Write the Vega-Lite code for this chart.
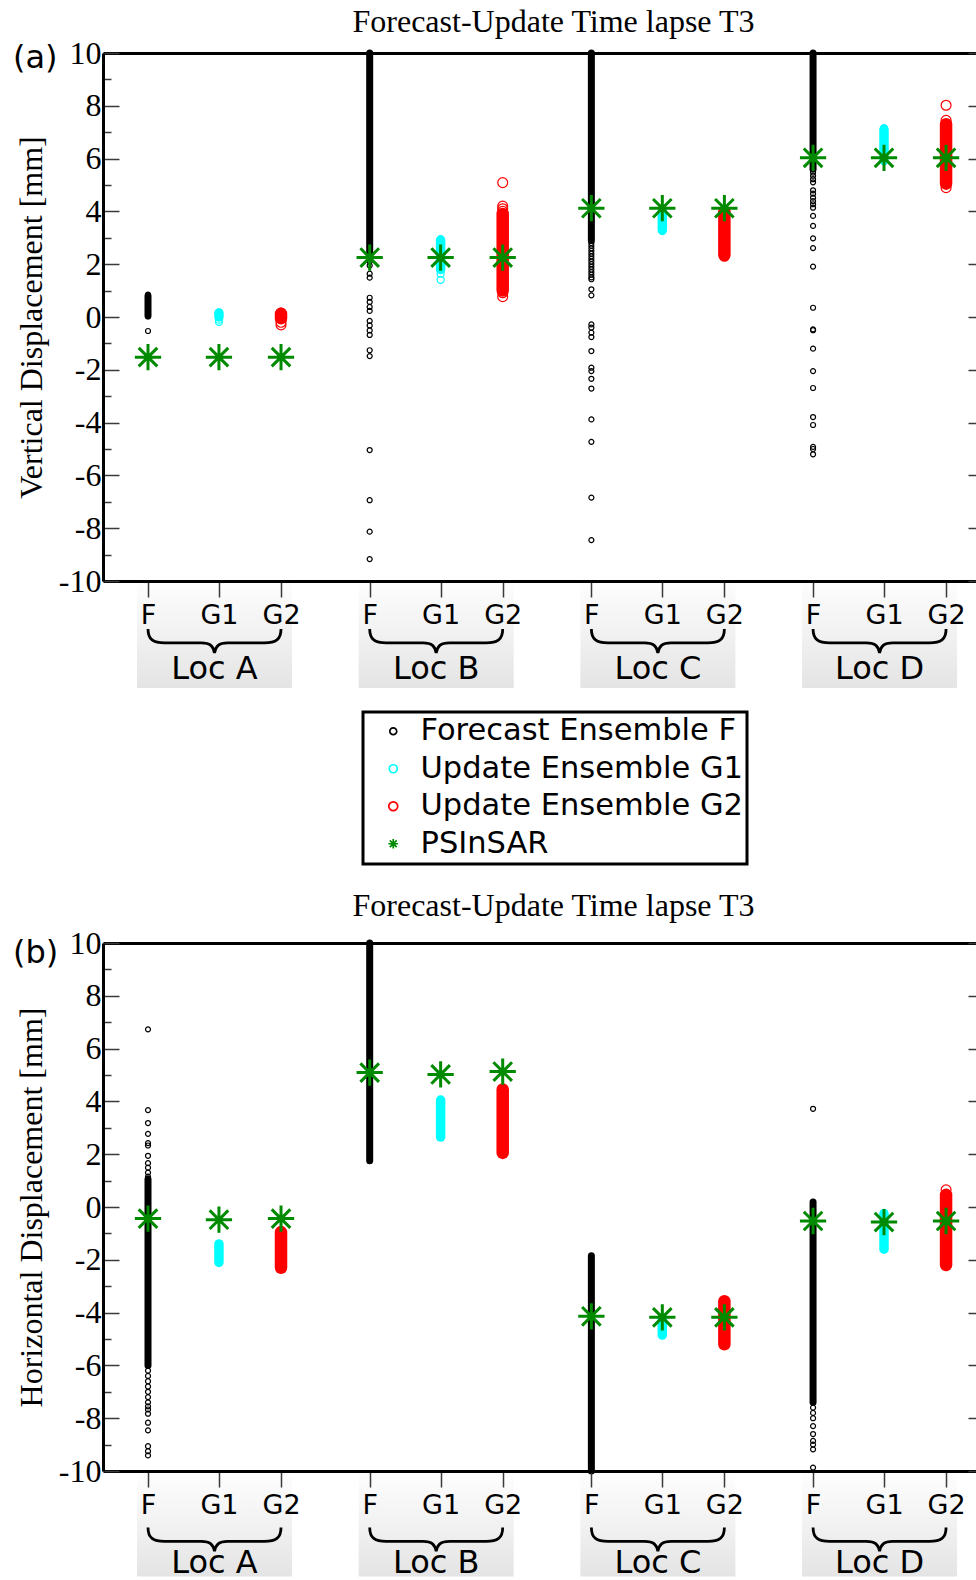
{
  "$schema": "https://vega.github.io/schema/vega-lite/v6.json",
  "padding": {"left": 12, "top": 6, "right": 0, "bottom": 0},
  "background": "white",
  "bounds": "flush",
  "spacing": 362,
  "config": {"view": {"stroke": null}, "legend": {"strokeWidth": 3}},
  "resolve": {"legend": {"color": "independent", "shape": "independent", "size": "independent"}},
  "datasets": {
    "slots": [
      {"k": "A-F", "loc": "Loc A", "m": "F", "x": 1},
      {"k": "A-G1", "loc": "Loc A", "m": "G1", "x": 1.32},
      {"k": "A-G2", "loc": "Loc A", "m": "G2", "x": 1.6},
      {"k": "B-F", "loc": "Loc B", "m": "F", "x": 2},
      {"k": "B-G1", "loc": "Loc B", "m": "G1", "x": 2.32},
      {"k": "B-G2", "loc": "Loc B", "m": "G2", "x": 2.6},
      {"k": "C-F", "loc": "Loc C", "m": "F", "x": 3},
      {"k": "C-G1", "loc": "Loc C", "m": "G1", "x": 3.32},
      {"k": "C-G2", "loc": "Loc C", "m": "G2", "x": 3.6},
      {"k": "D-F", "loc": "Loc D", "m": "F", "x": 4},
      {"k": "D-G1", "loc": "Loc D", "m": "G1", "x": 4.32},
      {"k": "D-G2", "loc": "Loc D", "m": "G2", "x": 4.6}
    ],
    "ba": [
      {"k": "A-F", "s": "F", "lo": 0.05, "hi": 0.8},
      {"k": "A-G1", "s": "G1", "lo": 0, "hi": 0.15},
      {"k": "A-G2", "s": "G2", "lo": -0.05, "hi": 0.12},
      {"k": "B-F", "s": "F", "lo": 2.3, "hi": 10},
      {"k": "B-G1", "s": "G1", "lo": 1.8, "hi": 2.9},
      {"k": "B-G2", "s": "G2", "lo": 1.0, "hi": 3.9},
      {"k": "C-F", "s": "F", "lo": 2.9, "hi": 10},
      {"k": "C-G1", "s": "G1", "lo": 3.3, "hi": 4.0},
      {"k": "C-G2", "s": "G2", "lo": 2.35, "hi": 4.0},
      {"k": "D-F", "s": "F", "lo": 5.6, "hi": 10},
      {"k": "D-G1", "s": "G1", "lo": 5.95, "hi": 7.1},
      {"k": "D-G2", "s": "G2", "lo": 5.05, "hi": 7.3}
    ],
    "pa": [
      {"k": "A-F", "s": "F", "v": 0.85}, {"k": "A-F", "s": "F", "v": 0.02}, {"k": "A-F", "s": "F", "v": -0.53},
      {"k": "A-G1", "s": "G1", "v": 0.17}, {"k": "A-G1", "s": "G1", "v": -0.1}, {"k": "A-G1", "s": "G1", "v": -0.18},
      {"k": "A-G2", "s": "G2", "v": 0.15}, {"k": "A-G2", "s": "G2", "v": -0.2}, {"k": "A-G2", "s": "G2", "v": -0.3},
      {"k": "B-F", "s": "F", "v": 2.1}, {"k": "B-F", "s": "F", "v": 1.95}, {"k": "B-F", "s": "F", "v": 1.64},
      {"k": "B-F", "s": "F", "v": 1.49}, {"k": "B-F", "s": "F", "v": 0.73}, {"k": "B-F", "s": "F", "v": 0.57},
      {"k": "B-F", "s": "F", "v": 0.38}, {"k": "B-F", "s": "F", "v": 0.23}, {"k": "B-F", "s": "F", "v": -0.15},
      {"k": "B-F", "s": "F", "v": -0.32}, {"k": "B-F", "s": "F", "v": -0.51}, {"k": "B-F", "s": "F", "v": -0.68},
      {"k": "B-F", "s": "F", "v": -1.26}, {"k": "B-F", "s": "F", "v": -1.48}, {"k": "B-F", "s": "F", "v": -5.04},
      {"k": "B-F", "s": "F", "v": -6.94}, {"k": "B-F", "s": "F", "v": -8.13}, {"k": "B-F", "s": "F", "v": -9.17},
      {"k": "B-G1", "s": "G1", "v": 2.95}, {"k": "B-G1", "s": "G1", "v": 1.64}, {"k": "B-G1", "s": "G1", "v": 1.41},
      {"k": "B-G2", "s": "G2", "v": 5.09}, {"k": "B-G2", "s": "G2", "v": 4.2}, {"k": "B-G2", "s": "G2", "v": 4.1},
      {"k": "B-G2", "s": "G2", "v": 4.0}, {"k": "B-G2", "s": "G2", "v": 0.92}, {"k": "B-G2", "s": "G2", "v": 0.77},
      {"k": "C-F", "s": "F", "v": 2.8}, {"k": "C-F", "s": "F", "v": 2.7}, {"k": "C-F", "s": "F", "v": 2.6},
      {"k": "C-F", "s": "F", "v": 2.5}, {"k": "C-F", "s": "F", "v": 2.4}, {"k": "C-F", "s": "F", "v": 2.3},
      {"k": "C-F", "s": "F", "v": 2.2}, {"k": "C-F", "s": "F", "v": 2.1}, {"k": "C-F", "s": "F", "v": 2.0},
      {"k": "C-F", "s": "F", "v": 1.9}, {"k": "C-F", "s": "F", "v": 1.8}, {"k": "C-F", "s": "F", "v": 1.7},
      {"k": "C-F", "s": "F", "v": 1.6}, {"k": "C-F", "s": "F", "v": 1.5}, {"k": "C-F", "s": "F", "v": 1.43},
      {"k": "C-F", "s": "F", "v": 1.05}, {"k": "C-F", "s": "F", "v": 0.82}, {"k": "C-F", "s": "F", "v": -0.28},
      {"k": "C-F", "s": "F", "v": -0.4}, {"k": "C-F", "s": "F", "v": -0.59}, {"k": "C-F", "s": "F", "v": -0.76},
      {"k": "C-F", "s": "F", "v": -1.29}, {"k": "C-F", "s": "F", "v": -1.92}, {"k": "C-F", "s": "F", "v": -2.05},
      {"k": "C-F", "s": "F", "v": -2.34}, {"k": "C-F", "s": "F", "v": -2.71}, {"k": "C-F", "s": "F", "v": -3.88},
      {"k": "C-F", "s": "F", "v": -4.73}, {"k": "C-F", "s": "F", "v": -6.84}, {"k": "C-F", "s": "F", "v": -8.45},
      {"k": "C-G1", "s": "G1", "v": 3.25},
      {"k": "C-G2", "s": "G2", "v": 2.3},
      {"k": "D-F", "s": "F", "v": 5.47}, {"k": "D-F", "s": "F", "v": 5.35}, {"k": "D-F", "s": "F", "v": 5.22},
      {"k": "D-F", "s": "F", "v": 5.1}, {"k": "D-F", "s": "F", "v": 4.8}, {"k": "D-F", "s": "F", "v": 4.67},
      {"k": "D-F", "s": "F", "v": 4.52}, {"k": "D-F", "s": "F", "v": 4.39}, {"k": "D-F", "s": "F", "v": 4.27},
      {"k": "D-F", "s": "F", "v": 4.14}, {"k": "D-F", "s": "F", "v": 3.83}, {"k": "D-F", "s": "F", "v": 3.45},
      {"k": "D-F", "s": "F", "v": 2.98}, {"k": "D-F", "s": "F", "v": 2.61}, {"k": "D-F", "s": "F", "v": 1.91},
      {"k": "D-F", "s": "F", "v": 0.35}, {"k": "D-F", "s": "F", "v": -0.47}, {"k": "D-F", "s": "F", "v": -0.5},
      {"k": "D-F", "s": "F", "v": -1.2}, {"k": "D-F", "s": "F", "v": -2.05}, {"k": "D-F", "s": "F", "v": -2.69},
      {"k": "D-F", "s": "F", "v": -3.79}, {"k": "D-F", "s": "F", "v": -4.09}, {"k": "D-F", "s": "F", "v": -4.92},
      {"k": "D-F", "s": "F", "v": -5.0}, {"k": "D-F", "s": "F", "v": -5.2},
      {"k": "D-G1", "s": "G1", "v": 7.15}, {"k": "D-G1", "s": "G1", "v": 5.9},
      {"k": "D-G2", "s": "G2", "v": 8.02}, {"k": "D-G2", "s": "G2", "v": 7.45}, {"k": "D-G2", "s": "G2", "v": 4.9},
      {"k": "A-F", "s": "PS", "v": -1.52}, {"k": "A-G1", "s": "PS", "v": -1.52}, {"k": "A-G2", "s": "PS", "v": -1.52},
      {"k": "B-F", "s": "PS", "v": 2.25}, {"k": "B-G1", "s": "PS", "v": 2.25}, {"k": "B-G2", "s": "PS", "v": 2.25},
      {"k": "C-F", "s": "PS", "v": 4.12}, {"k": "C-G1", "s": "PS", "v": 4.12}, {"k": "C-G2", "s": "PS", "v": 4.12},
      {"k": "D-F", "s": "PS", "v": 6.03}, {"k": "D-G1", "s": "PS", "v": 6.03}, {"k": "D-G2", "s": "PS", "v": 6.03}
    ],
    "bb": [
      {"k": "A-F", "s": "F", "lo": -6.0, "hi": 1.05},
      {"k": "A-G1", "s": "G1", "lo": -2.1, "hi": -1.4},
      {"k": "A-G2", "s": "G2", "lo": -2.3, "hi": -0.95},
      {"k": "B-F", "s": "F", "lo": 1.75, "hi": 10},
      {"k": "B-G1", "s": "G1", "lo": 2.65, "hi": 4.05},
      {"k": "B-G2", "s": "G2", "lo": 2.05, "hi": 4.45},
      {"k": "C-F", "s": "F", "lo": -10, "hi": -1.85},
      {"k": "C-G1", "s": "G1", "lo": -4.85, "hi": -4.2},
      {"k": "C-G2", "s": "G2", "lo": -5.2, "hi": -3.57},
      {"k": "D-F", "s": "F", "lo": -7.4, "hi": 0.19},
      {"k": "D-G1", "s": "G1", "lo": -1.6, "hi": -0.25},
      {"k": "D-G2", "s": "G2", "lo": -2.2, "hi": 0.46}
    ],
    "pb": [
      {"k": "A-F", "s": "F", "v": 6.73}, {"k": "A-F", "s": "F", "v": 3.67}, {"k": "A-F", "s": "F", "v": 3.18},
      {"k": "A-F", "s": "F", "v": 2.77}, {"k": "A-F", "s": "F", "v": 2.42}, {"k": "A-F", "s": "F", "v": 2.33},
      {"k": "A-F", "s": "F", "v": 1.94}, {"k": "A-F", "s": "F", "v": 1.66}, {"k": "A-F", "s": "F", "v": 1.49},
      {"k": "A-F", "s": "F", "v": 1.3}, {"k": "A-F", "s": "F", "v": 1.15}, {"k": "A-F", "s": "F", "v": -6.2},
      {"k": "A-F", "s": "F", "v": -6.4}, {"k": "A-F", "s": "F", "v": -6.6}, {"k": "A-F", "s": "F", "v": -6.8},
      {"k": "A-F", "s": "F", "v": -7.0}, {"k": "A-F", "s": "F", "v": -7.2}, {"k": "A-F", "s": "F", "v": -7.4},
      {"k": "A-F", "s": "F", "v": -7.55}, {"k": "A-F", "s": "F", "v": -7.67}, {"k": "A-F", "s": "F", "v": -7.83},
      {"k": "A-F", "s": "F", "v": -8.17}, {"k": "A-F", "s": "F", "v": -8.46}, {"k": "A-F", "s": "F", "v": -9.06},
      {"k": "A-F", "s": "F", "v": -9.25}, {"k": "A-F", "s": "F", "v": -9.41},
      {"k": "D-F", "s": "F", "v": 3.72}, {"k": "D-F", "s": "F", "v": -7.6}, {"k": "D-F", "s": "F", "v": -7.8},
      {"k": "D-F", "s": "F", "v": -8.0}, {"k": "D-F", "s": "F", "v": -8.3}, {"k": "D-F", "s": "F", "v": -8.6},
      {"k": "D-F", "s": "F", "v": -8.86}, {"k": "D-F", "s": "F", "v": -9.0}, {"k": "D-F", "s": "F", "v": -9.18},
      {"k": "D-F", "s": "F", "v": -9.87},
      {"k": "D-G2", "s": "G2", "v": 0.65},
      {"k": "A-F", "s": "PS", "v": -0.44}, {"k": "A-G1", "s": "PS", "v": -0.48}, {"k": "A-G2", "s": "PS", "v": -0.44},
      {"k": "B-F", "s": "PS", "v": 5.09}, {"k": "B-G1", "s": "PS", "v": 5.02}, {"k": "B-G2", "s": "PS", "v": 5.13},
      {"k": "C-F", "s": "PS", "v": -4.14}, {"k": "C-G1", "s": "PS", "v": -4.18}, {"k": "C-G2", "s": "PS", "v": -4.18},
      {"k": "D-F", "s": "PS", "v": -0.53}, {"k": "D-G1", "s": "PS", "v": -0.57}, {"k": "D-G2", "s": "PS", "v": -0.53}
    ]
  },
  "vconcat": [
    {
      "width": 873,
      "height": 528,
      "title": {"text": "Forecast-Update Time lapse T3", "font": "Liberation Serif", "fontSize": 32, "fontWeight": "normal", "color": "black", "anchor": "middle", "dx": 14, "offset": -2},
      "resolve": {"axis": {"x": "independent", "y": "independent"}, "legend": {"color": "independent", "shape": "independent", "size": "independent"}},
      "layer": [
        {
          "data": {"name": "slots"},
          "transform": [{"aggregate": [{"op": "min", "field": "x", "as": "x0"}, {"op": "max", "field": "x", "as": "x1"}], "groupby": ["loc"]}],
          "mark": {"type": "rect", "clip": false, "xOffset": -11, "x2Offset": 11,
            "fill": {"gradient": "linear", "x1": 0, "y1": 0, "x2": 0, "y2": 1, "stops": [{"offset": 0, "color": "#ffffff"}, {"offset": 0.5, "color": "#f2f2f2"}, {"offset": 1, "color": "#e4e4e4"}]}},
          "encoding": {
            "x": {"field": "x0", "type": "quantitative", "scale": {"domain": [0.797, 4.735], "nice": false, "zero": false}, "axis": null},
            "x2": {"field": "x1"},
            "y": {"datum": -9.77, "type": "quantitative", "scale": {"domain": [-10, 10], "nice": false, "zero": false}, "axis": null},
            "y2": {"datum": -14.05}
          }
        },
        {
          "data": {"name": "ba"},
          "transform": [{"lookup": "k", "from": {"data": {"name": "slots"}, "key": "k", "fields": ["x"]}}],
          "mark": {"type": "rule", "strokeCap": "round", "clip": false},
          "encoding": {
            "x": {"field": "x", "type": "quantitative", "scale": {"domain": [0.797, 4.735], "nice": false, "zero": false},
              "axis": {"orient": "bottom", "values": [1, 1.32, 1.6, 2, 2.32, 2.6, 3, 3.32, 3.6, 4, 4.32, 4.6],
                "labelExpr": "datum.value % 1 < 0.01 ? 'F' : (datum.value % 1 < 0.45 ? 'G1' : 'G2')",
                "title": null, "grid": false, "domain": true, "domainColor": "black", "domainWidth": 3,
                "ticks": true, "tickSize": 16, "tickColor": "#3a3a3a", "tickWidth": 1.5,
                "labelFont": "DejaVu Sans", "labelFontSize": 27, "labelColor": "black", "labelPadding": 5,
                "labelFlush": false, "labelOverlap": false, "zindex": 1}},
            "y": {"field": "lo", "type": "quantitative", "scale": {"domain": [-10, 10], "nice": false, "zero": false},
              "axis": {"orient": "left", "values": [-10, -9, -8, -7, -6, -5, -4, -3, -2, -1, 0, 1, 2, 3, 4, 5, 6, 7, 8, 9, 10],
                "labelExpr": "datum.value % 2 === 0 ? '' + datum.value : ''",
                "tickSize": {"condition": {"test": "datum.value % 2 === 0", "value": -16}, "value": -8},
                "labelPadding": 18, "grid": false, "domain": true, "domainColor": "black", "domainWidth": 3,
                "tickColor": "#3a3a3a", "tickWidth": 1.5, "labelFont": "Liberation Serif", "labelFontSize": 32,
                "labelColor": "black", "labelOverlap": false, "labelFlush": false,
                "title": "Vertical Displacement [mm]", "titleFont": "Liberation Serif", "titleFontSize": 32,
                "titleFontWeight": "normal", "titleColor": "black", "titlePadding": 10, "zindex": 1}},
            "y2": {"field": "hi"},
            "color": {"condition": [{"test": "datum.s === 'G1'", "value": "#00ffff"}, {"test": "datum.s === 'G2'", "value": "#ff0000"}], "value": "#000000"},
            "strokeWidth": {"condition": [{"test": "datum.s === 'F'", "value": 7}, {"test": "datum.s === 'G1'", "value": 9.5}], "value": 12.5}
          }
        },
        {
          "data": {"name": "pa"},
          "transform": [{"lookup": "k", "from": {"data": {"name": "slots"}, "key": "k", "fields": ["x"]}}],
          "mark": {"type": "point", "filled": false, "opacity": 1, "clip": false},
          "encoding": {
            "x": {"field": "x", "type": "quantitative", "scale": {"domain": [0.797, 4.735], "nice": false, "zero": false}, "axis": null},
            "y": {"field": "v", "type": "quantitative", "scale": {"domain": [-10, 10], "nice": false, "zero": false}, "axis": null},
            "color": {"field": "s", "type": "nominal",
              "scale": {"domain": ["F", "G1", "G2", "PS"], "range": ["#000000", "#00ffff", "#ff0000", "#008a00"]}, "legend": null},
            "shape": {"field": "s", "type": "nominal",
              "scale": {"domain": ["F", "G1", "G2", "PS"], "range": ["circle", "circle", "circle", "M0,-1L0,1M-1,0L1,0M-0.7071,-0.7071L0.7071,0.7071M-0.7071,0.7071L0.7071,-0.7071"]}, "legend": null},
            "size": {"condition": [{"test": "datum.s === 'F'", "value": 25}, {"test": "datum.s === 'G1'", "value": 50}, {"test": "datum.s === 'G2'", "value": 98}], "value": 690},
            "strokeWidth": {"condition": {"test": "datum.s === 'PS'", "value": 3}, "value": 1.2}
          }
        },
        {
          "data": {"name": "pa"},
          "transform": [{"filter": "datum.s === 'PS'"}, {"lookup": "k", "from": {"data": {"name": "slots"}, "key": "k", "fields": ["x"]}}],
          "mark": {"type": "point", "filled": false, "opacity": 0, "clip": false},
          "encoding": {
            "x": {"field": "x", "type": "quantitative", "scale": {"domain": [0.797, 4.735], "nice": false, "zero": false}, "axis": null},
            "y": {"field": "v", "type": "quantitative", "scale": {"domain": [-10, 10], "nice": false, "zero": false}, "axis": null},
            "color": {"field": "s", "type": "nominal",
              "scale": {"domain": ["F", "G1", "G2", "PS"], "range": ["#000000", "#00ffff", "#ff0000", "#008a00"]},
              "legend": {"orient": "none", "legendX": 260, "legendY": 659, "title": null,
                "strokeColor": "black", "fillColor": "white", "padding": 4,
                "labelFont": "DejaVu Sans", "labelFontSize": 30.5, "labelColor": "black", "labelLimit": 600,
                "symbolOffset": 11, "labelOffset": 12, "rowPadding": 6.5, "symbolOpacity": 1, "symbolStrokeWidth": 1.7,
                "labelExpr": "datum.value === 'F' ? 'Forecast Ensemble F' : datum.value === 'G1' ? 'Update Ensemble G1' : datum.value === 'G2' ? 'Update Ensemble G2' : 'PSInSAR'"}},
            "shape": {"field": "s", "type": "nominal",
              "scale": {"domain": ["F", "G1", "G2", "PS"], "range": ["circle", "circle", "circle", "M0,-1L0,1M-1,0L1,0M-0.7071,-0.7071L0.7071,0.7071M-0.7071,0.7071L0.7071,-0.7071"]},
              "legend": {"orient": "none", "legendX": 260, "legendY": 659, "title": null,
                "strokeColor": "black", "fillColor": "white", "padding": 4,
                "labelFont": "DejaVu Sans", "labelFontSize": 30.5, "labelColor": "black", "labelLimit": 600,
                "symbolOffset": 11, "labelOffset": 12, "rowPadding": 6.5, "symbolOpacity": 1, "symbolStrokeWidth": 1.7,
                "labelExpr": "datum.value === 'F' ? 'Forecast Ensemble F' : datum.value === 'G1' ? 'Update Ensemble G1' : datum.value === 'G2' ? 'Update Ensemble G2' : 'PSInSAR'"}},
            "size": {"field": "s", "type": "nominal",
              "scale": {"domain": ["F", "G1", "G2", "PS"], "range": [48, 95, 210, 324]},
              "legend": {"orient": "none", "legendX": 260, "legendY": 659, "title": null,
                "strokeColor": "black", "fillColor": "white", "padding": 4,
                "labelFont": "DejaVu Sans", "labelFontSize": 30.5, "labelColor": "black", "labelLimit": 600,
                "symbolOffset": 11, "labelOffset": 12, "rowPadding": 6.5, "symbolOpacity": 1, "symbolStrokeWidth": 1.7,
                "labelExpr": "datum.value === 'F' ? 'Forecast Ensemble F' : datum.value === 'G1' ? 'Update Ensemble G1' : datum.value === 'G2' ? 'Update Ensemble G2' : 'PSInSAR'"}}
          }
        },
        {
          "data": {"name": "slots"},
          "transform": [{"filter": "datum.m !== 'G1'"}, {"aggregate": [{"op": "mean", "field": "x", "as": "cx"}], "groupby": ["loc"]}],
          "mark": {"type": "point", "shape": "M-1,-0.18C-1,-0.02,-0.92,0.03,-0.75,0.03L-0.2,0.03C-0.06,0.03,-0.02,0.08,0,0.18C0.02,0.08,0.06,0.03,0.2,0.03L0.75,0.03C0.92,0.03,1,-0.02,1,-0.18",
            "size": 17689, "filled": false, "stroke": "black", "strokeWidth": 2.8, "opacity": 1, "clip": false},
          "encoding": {
            "x": {"field": "cx", "type": "quantitative", "scale": {"domain": [0.797, 4.735], "nice": false, "zero": false},
              "axis": {"orient": "top", "domain": true, "domainColor": "black", "domainWidth": 3, "ticks": false, "labels": false, "title": null, "grid": false, "zindex": 1}},
            "y": {"datum": -12.27, "type": "quantitative", "scale": {"domain": [-10, 10], "nice": false, "zero": false},
              "axis": {"orient": "right", "domain": false, "labels": false, "ticks": true, "tickSize": -8, "tickColor": "#3a3a3a", "tickWidth": 1.5,
                "values": [-10, -8, -6, -4, -2, 0, 2, 4, 6, 8, 10], "title": null, "grid": false, "zindex": 1}}
          }
        },
        {
          "data": {"name": "slots"},
          "transform": [{"filter": "datum.m !== 'G1'"}, {"aggregate": [{"op": "mean", "field": "x", "as": "cx"}], "groupby": ["loc"]}],
          "mark": {"type": "text", "font": "DejaVu Sans", "fontSize": 32, "baseline": "alphabetic", "align": "center", "color": "black", "clip": false},
          "encoding": {
            "x": {"field": "cx", "type": "quantitative", "scale": {"domain": [0.797, 4.735], "nice": false, "zero": false}, "axis": null},
            "y": {"datum": -13.72, "type": "quantitative", "scale": {"domain": [-10, 10], "nice": false, "zero": false}, "axis": null},
            "text": {"field": "loc"}
          }
        },
        {
          "data": {"values": [{"t": "(a)"}]},
          "mark": {"type": "text", "font": "DejaVu Sans", "fontSize": 32, "baseline": "alphabetic", "align": "left", "color": "black", "clip": false},
          "encoding": {
            "x": {"datum": 0.391, "type": "quantitative", "scale": {"domain": [0.797, 4.735], "nice": false, "zero": false}, "axis": null},
            "y": {"datum": 9.43, "type": "quantitative", "scale": {"domain": [-10, 10], "nice": false, "zero": false}, "axis": null},
            "text": {"field": "t"}
          }
        }
      ]
    },
    {
      "width": 873,
      "height": 528,
      "title": {"text": "Forecast-Update Time lapse T3", "font": "Liberation Serif", "fontSize": 32, "fontWeight": "normal", "color": "black", "anchor": "middle", "dx": 14, "offset": 4},
      "resolve": {"axis": {"x": "independent", "y": "independent"}},
      "layer": [
        {
          "data": {"name": "slots"},
          "transform": [{"aggregate": [{"op": "min", "field": "x", "as": "x0"}, {"op": "max", "field": "x", "as": "x1"}], "groupby": ["loc"]}],
          "mark": {"type": "rect", "clip": false, "xOffset": -11, "x2Offset": 11,
            "fill": {"gradient": "linear", "x1": 0, "y1": 0, "x2": 0, "y2": 1, "stops": [{"offset": 0, "color": "#ffffff"}, {"offset": 0.5, "color": "#f2f2f2"}, {"offset": 1, "color": "#e4e4e4"}]}},
          "encoding": {
            "x": {"field": "x0", "type": "quantitative", "scale": {"domain": [0.797, 4.735], "nice": false, "zero": false}, "axis": null},
            "x2": {"field": "x1"},
            "y": {"datum": -9.9, "type": "quantitative", "scale": {"domain": [-10, 10], "nice": false, "zero": false}, "axis": null},
            "y2": {"datum": -14.0}
          }
        },
        {
          "data": {"name": "bb"},
          "transform": [{"lookup": "k", "from": {"data": {"name": "slots"}, "key": "k", "fields": ["x"]}}],
          "mark": {"type": "rule", "strokeCap": "round", "clip": false},
          "encoding": {
            "x": {"field": "x", "type": "quantitative", "scale": {"domain": [0.797, 4.735], "nice": false, "zero": false},
              "axis": {"orient": "bottom", "values": [1, 1.32, 1.6, 2, 2.32, 2.6, 3, 3.32, 3.6, 4, 4.32, 4.6],
                "labelExpr": "datum.value % 1 < 0.01 ? 'F' : (datum.value % 1 < 0.45 ? 'G1' : 'G2')",
                "title": null, "grid": false, "domain": true, "domainColor": "black", "domainWidth": 3,
                "ticks": true, "tickSize": 16, "tickColor": "#3a3a3a", "tickWidth": 1.5,
                "labelFont": "DejaVu Sans", "labelFontSize": 27, "labelColor": "black", "labelPadding": 5,
                "labelFlush": false, "labelOverlap": false, "zindex": 1}},
            "y": {"field": "lo", "type": "quantitative", "scale": {"domain": [-10, 10], "nice": false, "zero": false},
              "axis": {"orient": "left", "values": [-10, -9, -8, -7, -6, -5, -4, -3, -2, -1, 0, 1, 2, 3, 4, 5, 6, 7, 8, 9, 10],
                "labelExpr": "datum.value % 2 === 0 ? '' + datum.value : ''",
                "tickSize": {"condition": {"test": "datum.value % 2 === 0", "value": -16}, "value": -8},
                "labelPadding": 18, "grid": false, "domain": true, "domainColor": "black", "domainWidth": 3,
                "tickColor": "#3a3a3a", "tickWidth": 1.5, "labelFont": "Liberation Serif", "labelFontSize": 32,
                "labelColor": "black", "labelOverlap": false, "labelFlush": false,
                "title": "Horizontal Displacement [mm]", "titleFont": "Liberation Serif", "titleFontSize": 32,
                "titleFontWeight": "normal", "titleColor": "black", "titlePadding": 10, "zindex": 1}},
            "y2": {"field": "hi"},
            "color": {"condition": [{"test": "datum.s === 'G1'", "value": "#00ffff"}, {"test": "datum.s === 'G2'", "value": "#ff0000"}], "value": "#000000"},
            "strokeWidth": {"condition": [{"test": "datum.s === 'F'", "value": 7}, {"test": "datum.s === 'G1'", "value": 9.5}], "value": 12.5}
          }
        },
        {
          "data": {"name": "pb"},
          "transform": [{"lookup": "k", "from": {"data": {"name": "slots"}, "key": "k", "fields": ["x"]}}],
          "mark": {"type": "point", "filled": false, "opacity": 1, "clip": false},
          "encoding": {
            "x": {"field": "x", "type": "quantitative", "scale": {"domain": [0.797, 4.735], "nice": false, "zero": false}, "axis": null},
            "y": {"field": "v", "type": "quantitative", "scale": {"domain": [-10, 10], "nice": false, "zero": false}, "axis": null},
            "color": {"field": "s", "type": "nominal",
              "scale": {"domain": ["F", "G1", "G2", "PS"], "range": ["#000000", "#00ffff", "#ff0000", "#008a00"]}, "legend": null},
            "shape": {"field": "s", "type": "nominal",
              "scale": {"domain": ["F", "G1", "G2", "PS"], "range": ["circle", "circle", "circle", "M0,-1L0,1M-1,0L1,0M-0.7071,-0.7071L0.7071,0.7071M-0.7071,0.7071L0.7071,-0.7071"]}, "legend": null},
            "size": {"condition": [{"test": "datum.s === 'F'", "value": 25}, {"test": "datum.s === 'G1'", "value": 50}, {"test": "datum.s === 'G2'", "value": 98}], "value": 690},
            "strokeWidth": {"condition": {"test": "datum.s === 'PS'", "value": 3}, "value": 1.2}
          }
        },
        {
          "data": {"name": "slots"},
          "transform": [{"filter": "datum.m !== 'G1'"}, {"aggregate": [{"op": "mean", "field": "x", "as": "cx"}], "groupby": ["loc"]}],
          "mark": {"type": "point", "shape": "M-1,-0.18C-1,-0.02,-0.92,0.03,-0.75,0.03L-0.2,0.03C-0.06,0.03,-0.02,0.08,0,0.18C0.02,0.08,0.06,0.03,0.2,0.03L0.75,0.03C0.92,0.03,1,-0.02,1,-0.18",
            "size": 17689, "filled": false, "stroke": "black", "strokeWidth": 2.8, "opacity": 1, "clip": false},
          "encoding": {
            "x": {"field": "cx", "type": "quantitative", "scale": {"domain": [0.797, 4.735], "nice": false, "zero": false},
              "axis": {"orient": "top", "domain": true, "domainColor": "black", "domainWidth": 3, "ticks": false, "labels": false, "title": null, "grid": false, "zindex": 1}},
            "y": {"datum": -12.59, "type": "quantitative", "scale": {"domain": [-10, 10], "nice": false, "zero": false},
              "axis": {"orient": "right", "domain": false, "labels": false, "ticks": true, "tickSize": -8, "tickColor": "#3a3a3a", "tickWidth": 1.5,
                "values": [-10, -8, -6, -4, -2, 0, 2, 4, 6, 8, 10], "title": null, "grid": false, "zindex": 1}}
          }
        },
        {
          "data": {"name": "slots"},
          "transform": [{"filter": "datum.m !== 'G1'"}, {"aggregate": [{"op": "mean", "field": "x", "as": "cx"}], "groupby": ["loc"]}],
          "mark": {"type": "text", "font": "DejaVu Sans", "fontSize": 32, "baseline": "alphabetic", "align": "center", "color": "black", "clip": false},
          "encoding": {
            "x": {"field": "cx", "type": "quantitative", "scale": {"domain": [0.797, 4.735], "nice": false, "zero": false}, "axis": null},
            "y": {"datum": -13.87, "type": "quantitative", "scale": {"domain": [-10, 10], "nice": false, "zero": false}, "axis": null},
            "text": {"field": "loc"}
          }
        },
        {
          "data": {"values": [{"t": "(b)"}]},
          "mark": {"type": "text", "font": "DejaVu Sans", "fontSize": 32, "baseline": "alphabetic", "align": "left", "color": "black", "clip": false},
          "encoding": {
            "x": {"datum": 0.391, "type": "quantitative", "scale": {"domain": [0.797, 4.735], "nice": false, "zero": false}, "axis": null},
            "y": {"datum": 9.24, "type": "quantitative", "scale": {"domain": [-10, 10], "nice": false, "zero": false}, "axis": null},
            "text": {"field": "t"}
          }
        }
      ]
    }
  ]
}
